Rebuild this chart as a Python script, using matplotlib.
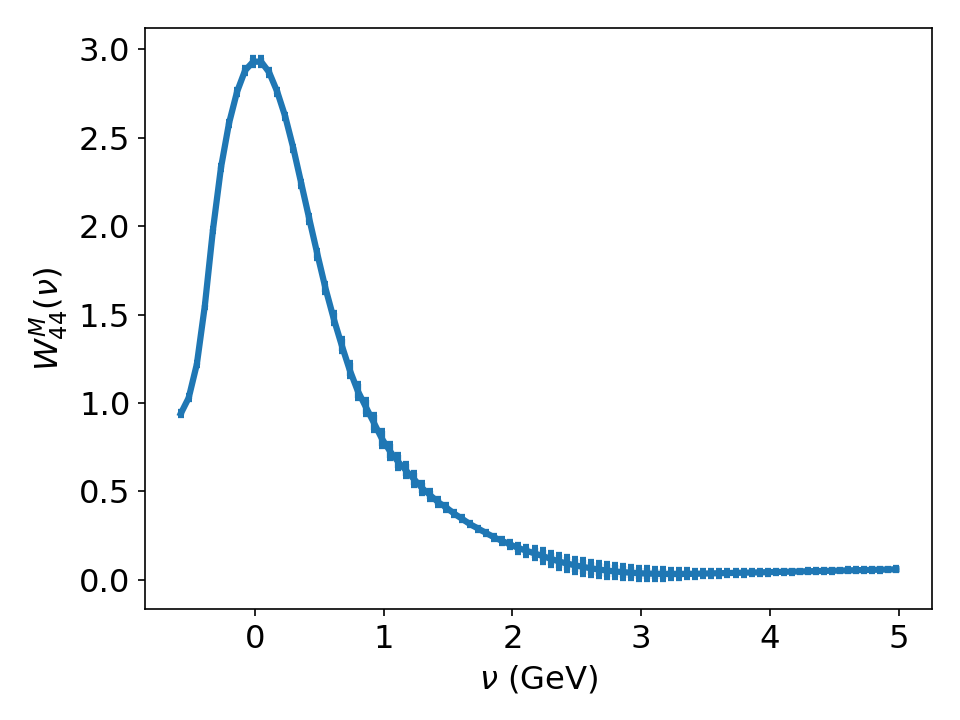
import numpy as np
import matplotlib
matplotlib.use('Agg')
import matplotlib.pyplot as plt

# nu grid (GeV)
nu = [-0.574, -0.512, -0.449, -0.387, -0.324, -0.262, -0.200, -0.137, -0.075, -0.012,
      0.050, 0.112, 0.175, 0.237, 0.300, 0.362, 0.424, 0.487, 0.549, 0.612,
      0.674, 0.736, 0.799, 0.861, 0.924, 0.986, 1.048, 1.111, 1.173, 1.236,
      1.298, 1.360, 1.423, 1.485, 1.548, 1.610, 1.672, 1.735, 1.797, 1.860,
      1.922, 1.984, 2.047, 2.109, 2.172, 2.234, 2.296, 2.359, 2.421, 2.484,
      2.546, 2.608, 2.671, 2.733, 2.796, 2.858, 2.920, 2.983, 3.045, 3.108,
      3.170, 3.232, 3.295, 3.357, 3.420, 3.482, 3.544, 3.607, 3.669, 3.732,
      3.794, 3.856, 3.919, 3.981, 4.044, 4.106, 4.168, 4.231, 4.293, 4.356,
      4.418, 4.480, 4.543, 4.605, 4.668, 4.730, 4.792, 4.855, 4.917, 4.980]

W44 = [0.94, 1.03, 1.22, 1.55, 1.98, 2.33, 2.58, 2.76, 2.88, 2.93,
       2.93, 2.87, 2.76, 2.62, 2.44, 2.24, 2.04, 1.84, 1.65, 1.48,
       1.33, 1.19, 1.07, 0.98, 0.89, 0.80, 0.73, 0.67, 0.62, 0.57,
       0.52, 0.48, 0.44, 0.41, 0.375, 0.345, 0.315, 0.29, 0.265, 0.24,
       0.22, 0.20, 0.18, 0.165, 0.15, 0.135, 0.12, 0.105, 0.093, 0.083,
       0.074, 0.066, 0.059, 0.053, 0.048, 0.044, 0.041, 0.038, 0.036, 0.035,
       0.034, 0.034, 0.034, 0.034, 0.035, 0.036, 0.037, 0.038, 0.039, 0.040,
       0.041, 0.042, 0.043, 0.044, 0.045, 0.046, 0.047, 0.048, 0.049, 0.050,
       0.051, 0.052, 0.053, 0.054, 0.055, 0.056, 0.057, 0.058, 0.059, 0.060]

err = [0.008, 0.008, 0.006, 0.006, 0.006, 0.008, 0.01, 0.012, 0.015, 0.02,
       0.02, 0.015, 0.012, 0.01, 0.01, 0.012, 0.015, 0.018, 0.022, 0.028,
       0.034, 0.038, 0.04, 0.04, 0.04, 0.04, 0.04, 0.038, 0.035, 0.032,
       0.026, 0.02, 0.016, 0.012, 0.01, 0.008, 0.006, 0.006, 0.006, 0.008,
       0.012, 0.016, 0.02, 0.024, 0.028, 0.032, 0.035, 0.037, 0.038, 0.038,
       0.038, 0.037, 0.036, 0.035, 0.034, 0.033, 0.032, 0.031, 0.03, 0.028,
       0.026, 0.024, 0.022, 0.02, 0.018, 0.016, 0.015, 0.014, 0.013, 0.012,
       0.011, 0.01, 0.009, 0.008, 0.007, 0.006, 0.006, 0.005, 0.005, 0.005,
       0.005, 0.005, 0.005, 0.005, 0.005, 0.005, 0.005, 0.005, 0.005, 0.005]

fig, ax = plt.subplots(figsize=(6.4, 4.8), dpi=150)
ax.errorbar(nu, W44, yerr=err, color='#1f77b4', linewidth=3,
            elinewidth=3, capsize=1.6, capthick=3)
ax.set_ylim(-0.165, 3.12)
ax.set_yticks([0.0, 0.5, 1.0, 1.5, 2.0, 2.5, 3.0])
ax.set_xticks([0, 1, 2, 3, 4, 5])
ax.tick_params(labelsize=15.5)
ax.set_xlabel(r'$\nu$ (GeV)', fontsize=15.5)
ax.set_ylabel(r'$W^M_{44}(\nu)$', fontsize=15.5)
fig.subplots_adjust(left=0.151, right=0.971, top=0.961, bottom=0.154)
fig.savefig('out.png')
